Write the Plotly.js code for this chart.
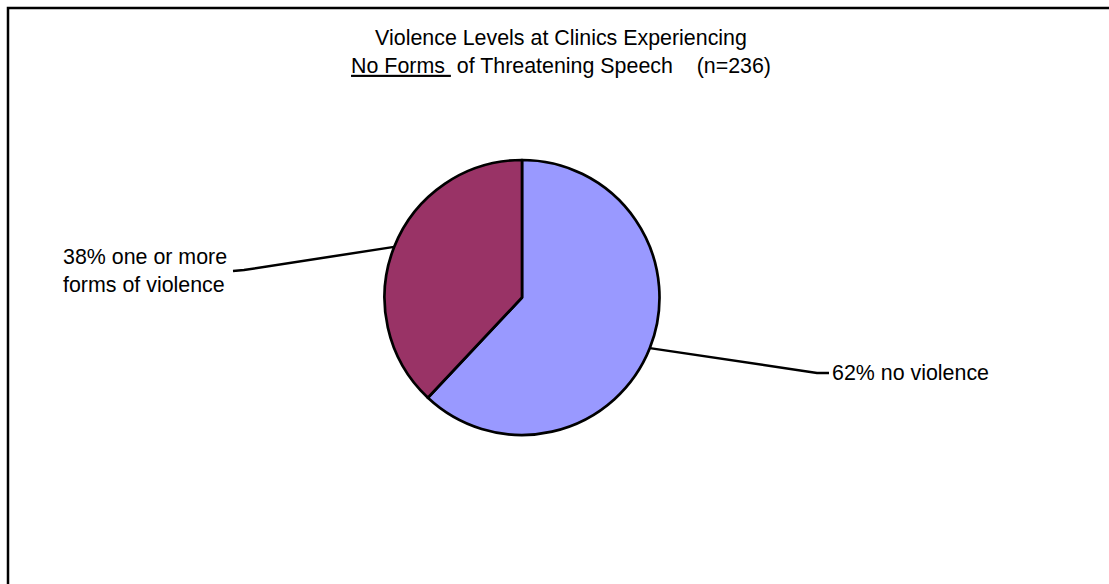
<!DOCTYPE html>
<html>
<head>
<meta charset="utf-8">
<script src="https://cdn.plot.ly/plotly-3.0.1.min.js"></script>
<style>
  html, body { margin: 0; padding: 0; background: #ffffff; }
  #chart { width: 1109px; height: 584px; }
</style>
</head>
<body>
<div id="chart"></div>
<script>
// Share of clinics (percent) by violence level, n = 236
const categories = ['no violence', 'one or more forms of violence'];
const categoryLines = [['no violence'], ['one or more', 'forms of violence']];
const values = [62, 38];
const colors = ['#9999FF', '#993366'];

const W = 1109, H = 584;
const FONT = 'Liberation Sans, Arial, sans-serif';
const FONT_SIZE = 21.4;

// pie geometry in pixels
const cx = 522, cy = 297.5, r = 137.5;

// label anchors (elbow of leader line, text anchor) per slice
const labelAnchors = [
  { elbow: [817, 373], end: [829, 373], side: 'left' },
  { elbow: [244, 270], end: [233, 271], side: 'right' }
];

const px = x => x / W;
const py = y => 1 - y / H;

const total = values.reduce((a, b) => a + b, 0);
const shapes = [];
const annotations = [];

// outer frame
shapes.push({
  type: 'rect', xref: 'paper', yref: 'paper',
  x0: px(8), x1: px(W + 10), y0: py(H + 10), y1: py(8),
  line: { color: '#000000', width: 2.5 }, fillcolor: 'rgba(0,0,0,0)'
});

let cum = 0;
values.forEach((v, i) => {
  const mid = (cum + v / 2) / total * 2 * Math.PI; // clockwise from 12 o'clock
  cum += v;
  const sx = cx + r * Math.sin(mid);
  const sy = cy - r * Math.cos(mid);
  const a = labelAnchors[i];
  shapes.push({
    type: 'path', xref: 'paper', yref: 'paper',
    path: `M ${px(sx)} ${py(sy)} L ${px(a.elbow[0])} ${py(a.elbow[1])} L ${px(a.end[0])} ${py(a.end[1])}`,
    line: { color: '#000000', width: 2.5 }
  });
  const lines = categoryLines[i].slice();
  lines[0] = v + '% ' + lines[0];
  annotations.push({
    xref: 'paper', yref: 'paper',
    x: px(a.end[0] + (a.side === 'left' ? 1 : -4)), y: py(a.end[1]),
    xanchor: a.side, yanchor: 'middle',
    align: 'left',
    text: lines.join('<br>'),
    showarrow: false,
    font: { family: FONT, size: FONT_SIZE, color: '#000000' }
  });
});

const data = [{
  type: 'pie',
  labels: categories,
  values: values,
  sort: false,
  direction: 'clockwise',
  rotation: 0,
  textinfo: 'none',
  hoverinfo: 'label+percent',
  marker: { colors: colors, line: { color: '#000000', width: 2.7 } },
  domain: {
    x: [px(cx - r), px(cx + r)],
    y: [py(cy + r), py(cy - r)]
  },
  showlegend: false
}];

const layout = {
  width: W, height: H,
  margin: { l: 0, r: 0, t: 0, b: 0 },
  paper_bgcolor: '#ffffff',
  plot_bgcolor: '#ffffff',
  showlegend: false,
  title: {
    text: 'Violence Levels at Clinics Experiencing<br><u>No Forms\u00A0</u>\u00A0of Threatening Speech\u00A0\u00A0\u00A0\u00A0(n=236)',
    x: 561 / W, xanchor: 'center',
    y: 1 - 45 / H, yanchor: 'top',
    font: { family: FONT, size: FONT_SIZE, color: '#000000' }
  },
  shapes: shapes,
  annotations: annotations
};

Plotly.newPlot('chart', data, layout, { displayModeBar: false, staticPlot: true });
</script>
</body>
</html>
